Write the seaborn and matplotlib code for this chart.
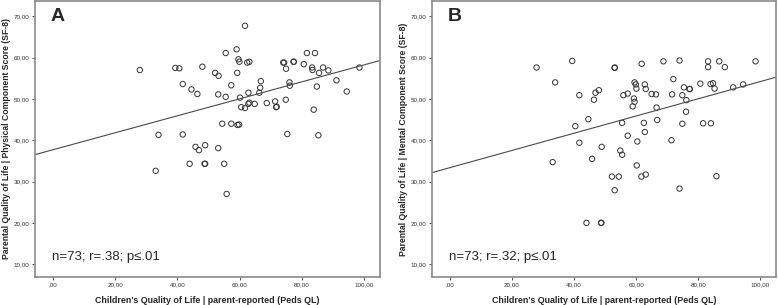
import numpy as np
import pandas as pd
import matplotlib
matplotlib.use('Agg')
import matplotlib.pyplot as plt
import seaborn as sns

# Panel A: children's QoL vs parental physical component score
phys_x = [27.9, 33.9, 33.0, 39.3, 40.6, 41.7, 41.7, 44.5, 46.4, 48.0,
          45.8, 46.9, 48.9, 43.9, 48.7, 48.9, 52.1, 53.2, 53.1, 53.1,
          55.0, 55.5, 55.5, 54.4, 57.3, 57.3, 55.8, 59.0, 59.6, 59.2,
          59.9, 59.3, 59.8, 60.1, 60.5, 61.7, 62.4, 63.1, 61.7, 62.8,
          63.1, 62.8, 64.8, 66.8, 66.6, 66.3, 68.7, 71.4, 71.7, 71.9,
          74.0, 74.3, 77.3, 77.4, 74.9, 76.0, 76.1, 74.8, 75.3, 80.6,
          81.6, 84.2, 83.3, 83.4, 85.5, 86.8, 88.5, 84.8, 83.8, 85.3,
          91.1, 94.4, 98.5]
phys_y = [57.0, 41.3, 32.6, 57.5, 57.4, 53.6, 41.4, 52.3, 51.2, 57.8,
          38.4, 37.6, 38.8, 34.3, 34.3, 34.3, 56.3, 55.6, 51.1, 38.1,
          34.3, 61.1, 50.5, 44.0, 53.3, 44.0, 27.0, 62.0, 59.6, 56.3,
          59.0, 43.7, 43.8, 50.3, 48.0, 67.7, 58.8, 59.0, 47.8, 51.5,
          49.1, 48.8, 48.8, 54.3, 52.7, 51.5, 49.0, 49.4, 48.0, 48.1,
          58.8, 58.8, 59.0, 59.0, 57.3, 54.0, 53.2, 49.8, 41.5, 58.4,
          61.1, 61.1, 57.6, 57.0, 56.3, 57.6, 56.9, 53.0, 47.4, 41.2,
          54.5, 51.8, 57.6]

# Panel B: children's QoL vs parental mental component score
ment_x = [27.9, 39.4, 33.9, 53.1, 53.1, 41.7, 46.4, 46.9, 48.0, 61.8,
          44.6, 40.4, 41.7, 48.9, 59.5, 59.9, 60.1, 62.8, 63.1, 55.9,
          57.3, 59.3, 59.5, 58.9, 55.5, 62.5, 62.8, 57.3, 60.4, 33.1,
          45.8, 54.9, 55.5, 60.2, 52.2, 54.4, 53.1, 61.7, 63.1, 44.0,
          48.7, 48.8, 68.8, 74.0, 83.2, 83.2, 86.8, 88.6, 98.5, 72.0,
          80.7, 84.0, 84.8, 85.3, 75.4, 77.2, 77.3, 91.3, 94.5, 65.0,
          66.4, 71.6, 74.9, 76.2, 66.6, 76.1, 66.8, 74.9, 81.6, 84.1,
          71.4, 74.0, 85.9]
ment_y = [57.6, 59.2, 54.0, 57.5, 57.6, 50.9, 49.8, 51.5, 52.1, 58.5,
          45.1, 43.4, 39.4, 38.4, 54.0, 53.5, 52.5, 53.5, 52.4, 50.9,
          51.3, 50.1, 49.3, 48.2, 44.2, 44.2, 42.0, 41.1, 39.7, 34.7,
          35.5, 37.5, 36.5, 33.9, 31.2, 31.2, 27.9, 31.2, 31.7, 20.0,
          20.0, 20.0, 59.1, 59.3, 59.1, 57.7, 59.1, 57.7, 59.1, 54.8,
          53.7, 53.6, 53.8, 52.5, 52.8, 52.4, 52.4, 52.8, 53.5, 51.2,
          51.1, 51.1, 50.9, 49.7, 47.9, 46.9, 44.9, 44.0, 44.1, 44.1,
          40.0, 28.3, 31.3]

panels = ['A', 'B']
stats = ['n=73; r=.38; p\u2264.01', 'n=73; r=.32; p\u2264.01']
ylabels = ['Parental Quality of Life | Physical Component Score (SF-8)',
           'Parental Quality of Life | Mental Component Score (SF-8)']
xlabel = "Children's Quality of Life | parent-reported (Peds QL)"
xticks = [0, 20, 40, 60, 80, 100]
xticklabels = [',00', '20,00', '40,00', '60,00', '80,00', '100,00']
yticks = [10, 20, 30, 40, 50, 60, 70]
yticklabels = ['10,00', '20,00', '30,00', '40,00', '50,00', '60,00', '70,00']

sns.set_style('white')
plt.rcParams['font.family'] = ['Liberation Sans', 'DejaVu Sans']

fig = plt.figure(figsize=(7.78, 3.05), dpi=100)
W, H = 778, 305
ax_a = fig.add_axes([35 / W, 28 / H, 345 / W, 276 / H])
ax_b = fig.add_axes([432 / W, 28 / H, 344 / W, 276 / H])

datasets = [(phys_x, phys_y), (ment_x, ment_y)]
for ax, (xs, ys), letter, stat, ylab in zip([ax_a, ax_b], datasets, panels, stats, ylabels):
    df = pd.DataFrame({'x': xs, 'y': ys})
    ax.set_xlim(-5.8, 105.1)
    ax.set_ylim(6.9, 73.7)
    sns.scatterplot(data=df, x='x', y='y', ax=ax, s=15, marker='o',
                    facecolor='none', edgecolor='#333333', linewidth=0.7)
    sns.regplot(data=df, x='x', y='y', ax=ax, scatter=False, ci=None,
                truncate=False, line_kws={'color': '#4a4a4a', 'lw': 0.8})
    ax.set_xlim(-5.8, 105.1)
    ax.set_ylim(6.9, 73.7)
    ax.set_xticks(xticks)
    ax.set_xticklabels(xticklabels)
    ax.set_yticks(yticks)
    ax.set_yticklabels(yticklabels)
    ax.tick_params(axis='both', labelsize=4.5, colors='#333333', length=2.5,
                   width=0.6, direction='out', bottom=True, left=True, pad=1.5)
    for sp in ax.spines.values():
        sp.set_color('#8a8a8a')
        sp.set_linewidth(1.2)
    ax.set_xlabel(xlabel, fontsize=6.4, fontweight='bold', labelpad=6)
    ax.set_ylabel(ylab, fontsize=6.2, fontweight='bold', labelpad=2)
    ax.text(0.045, 0.975, letter, transform=ax.transAxes, fontsize=14,
            fontweight='bold', va='top', ha='left')
    ax.text(0.05, 0.05, stat, transform=ax.transAxes, fontsize=9.5,
            va='bottom', ha='left')

fig.savefig('out.png', dpi=100)
